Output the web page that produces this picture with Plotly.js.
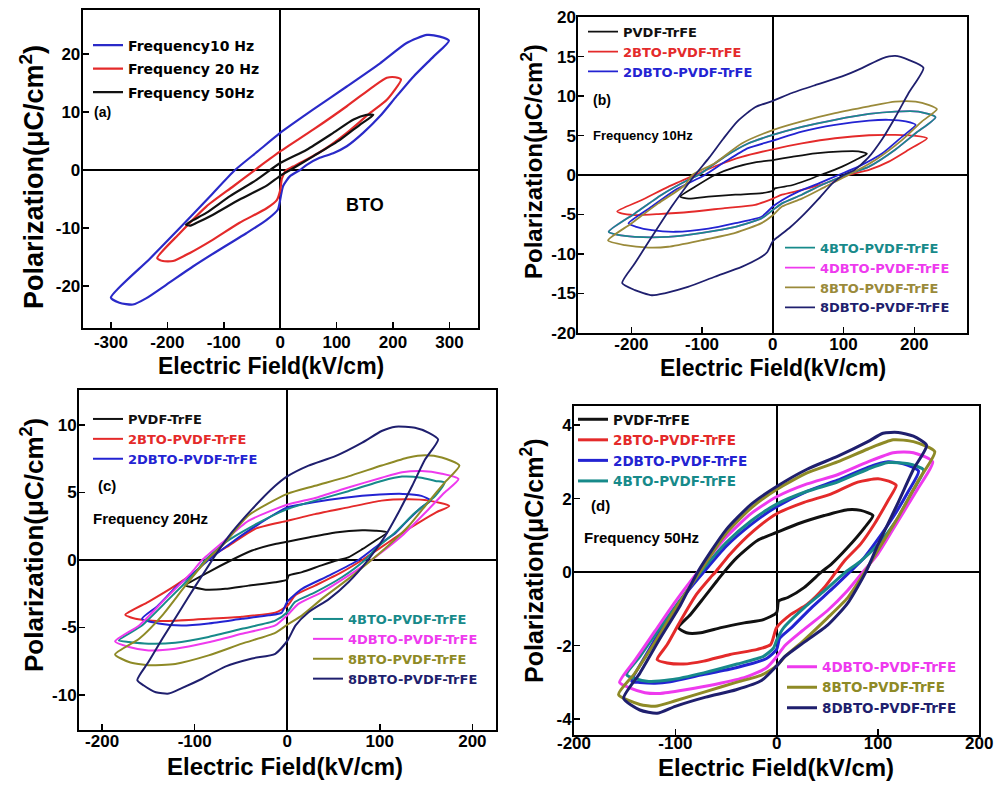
<!DOCTYPE html>
<html><head><meta charset="utf-8">
<script src="https://cdn.plot.ly/plotly-3.0.1.min.js"></script>
<style>html,body{margin:0;padding:0;background:#fff}</style>
</head><body><div id="chart" style="width:995px;height:786px"></div>
<script>
// ---------- Panel (a): BTO, three frequencies ----------
const a_10Hz_x = [-300,-231,-178,-125,-80,-40,0,58,118,177,224,260,283,299,272,236,206,177,147,118,94,70,47,35,17,5,0,-4,-24,-60,-107,-154,-202,-237,-261,-285,-300];
const a_10Hz_y = [-22,-15.3,-10,-4.6,0,3.2,6.4,10.4,14.4,18.4,21.9,23.3,23.0,22.3,19.6,16.1,12.7,9.3,6.4,4.1,2.9,2.1,0.9,0,-1.1,-2.8,-5.1,-6.8,-8.6,-10.9,-13.7,-16.6,-19.8,-22.1,-23.2,-22.9,-22];
const a_20Hz_x = [-218,-178,-131,-83,-45,0,59,118,165,189,204,214,189,159,118,82,47,23,11,3,0,-6,-24,-72,-119,-160,-190,-208,-218];
const a_20Hz_y = [-15.2,-10.9,-6.3,-2.8,0,3.2,7.0,11.0,14.4,15.9,16.0,15.6,12.1,9.8,6.4,3.8,1.8,0.6,0,-1.5,-3.5,-5.2,-6.6,-9.1,-12.0,-14.3,-15.7,-15.7,-15.2];
const a_50Hz_x = [-167,-131,-89,-42,0,47,94,130,153,165,141,106,59,23,0,-24,-72,-119,-148,-160,-167];
const a_50Hz_y = [-9.4,-7.4,-4.5,-1.7,1.2,3.5,6.4,8.7,9.5,9.5,7.8,5.2,2.4,0.3,-1.0,-2.7,-5.1,-7.7,-9.1,-9.6,-9.4];

// ---------- Panel (b): 10 Hz ----------
const b_PVDF_x = [-131,-110,-82,-53,-25,0,27,60,98,121,133,117,98,74,67,50,27,3,0,-15,-53,-91,-119,-131];
const b_PVDF_y = [-2.75,-1.5,0,1.0,1.6,1.9,2.3,2.75,3.0,3.0,2.7,1.9,1.06,0.2,0,-0.6,-1.3,-1.7,-2.0,-2.3,-2.5,-2.75,-3.0,-2.75];
const b_2BTO_x = [-220,-186,-148,-110,-77,-44,0,41,88,136,173,202,218,192,164,136,107,74,41,13,0,-25,-68,-115,-162,-195,-214,-220];
const b_2BTO_y = [-4.6,-3.2,-1.5,0,1.27,2.3,3.26,4.0,4.66,5.04,5.08,4.96,4.66,3.2,1.7,0.64,0,-1.06,-1.9,-2.5,-3.0,-3.8,-4.2,-4.66,-4.96,-5.08,-4.87,-4.6];
const b_2DBTO_x = [-204,-171,-138,-96,-67,-35,0,41,88,136,164,188,202,183,155,121,93,65,36,13,0,-16,-53,-91,-138,-171,-193,-204];
const b_2DBTO_y = [-6.14,-4.0,-1.9,0,1.7,3.4,4.35,5.5,6.36,6.9,7.0,6.8,6.36,4.87,2.75,1.06,0,-1.06,-2.1,-3.2,-4.0,-5.3,-6.1,-6.8,-7.2,-7.0,-6.57,-6.14];
const b_4BTO_x = [-232,-195,-157,-120,-105,-68,-35,0,41,88,136,173,206,230,202,173,136,103,69,41,13,0,-16,-53,-100,-148,-195,-219,-232];
const b_4BTO_y = [-7.2,-4.87,-2.5,-0.64,0,2.33,4.0,5.08,6.1,7.0,7.75,8.05,8.05,7.33,5.3,3.2,1.06,0,-1.27,-2.5,-3.6,-4.45,-5.5,-6.57,-7.33,-7.84,-7.84,-7.6,-7.2];
const b_4DBTO_x = b_4BTO_x;   // hidden under the 4BTO loop in the picture
const b_4DBTO_y = b_4BTO_y;
const b_8BTO_x = [-233,-200,-162,-124,-114,-82,-44,0,41,88,136,173,202,220,232,211,183,145,107,74,41,13,0,-16,-53,-100,-148,-176,-209,-233];
const b_8BTO_y = [-8.3,-6.14,-3.6,-1.27,0,1.5,4.0,5.7,6.8,7.84,8.7,9.3,9.3,8.9,8.35,6.8,4.45,1.9,0,-1.5,-3.0,-4.0,-5.1,-6.1,-7.33,-8.26,-9.1,-9.2,-8.9,-8.3];
const b_8DBTO_x = [-213,-195,-171,-143,-110,-90,-70,-50,-25,0,27,60,98,126,155,173,192,213,192,173,155,135,115,100,85,65,45,25,8,0,-8,-20,-44,-82,-120,-153,-171,-195,-213];
const b_8DBTO_y = [-13.7,-11.2,-7.84,-4.0,0,2.2,4.6,6.8,8.6,9.4,10.4,11.4,12.5,13.56,14.8,15.1,14.6,13.6,10.4,7.3,4.6,2.2,0.6,0,-1.0,-3.0,-4.9,-6.6,-7.8,-8.4,-9.8,-10.6,-11.65,-12.9,-14.2,-15.0,-15.25,-14.6,-13.7];

// ---------- Panel (c): 20 Hz ----------
const c_PVDF_x = [-110,-85,-60,-38,-13,0,23,52,81,95,108,95,81,66,55,37,16,1.4,0,-13,-42,-67,-88,-103,-110];
const c_PVDF_y = [-1.9,-0.9,0,0.7,1.18,1.35,1.67,2.04,2.2,2.17,2.04,1.43,0.8,0.2,0,-0.4,-0.9,-1.16,-1.45,-1.65,-1.9,-2.14,-2.2,-2.0,-1.9];
const c_2BTO_x = [-175,-150,-121,-96,-88,-63,-35,0,30,66,102,131,153,175,160,131,109,88,81,59,30,9,0,-13,-49,-85,-121,-146,-164,-175];
const c_2BTO_y = [-4.06,-3.1,-1.9,-0.67,0,1.06,2.3,2.9,3.4,3.9,4.4,4.5,4.4,4.0,3.5,2.3,1.3,0.32,0,-0.9,-1.9,-2.6,-3.4,-3.9,-4.2,-4.36,-4.5,-4.5,-4.36,-4.06];
const c_2DBTO_x = [-157,-140,-120,-100,-85,-60,-30,0,30,60,100,125,145,155,145,131,117,102,77,45,16,0,-6,-20,-49,-85,-114,-139,-157];
const c_2DBTO_y = [-4.36,-3.4,-2.0,-0.9,0,1.3,2.7,3.9,4.3,4.6,4.85,4.9,4.75,4.4,3.9,3.0,2.0,1.3,0,-1.16,-2.14,-3.1,-3.9,-4.1,-4.36,-4.7,-4.85,-4.7,-4.36];
const c_4BTO_x = [-182,-157,-128,-99,-88.5,-67,-38,0,30,66,102,124,145,160,170,160,138,116.5,95,84,59,30,8.6,0,-13,-49,-85,-121,-150,-171,-182];
const c_4BTO_y = [-5.96,-4.85,-2.9,-0.9,0,1.3,2.5,3.77,4.4,5.1,5.86,6.18,6.1,5.86,5.74,4.75,3.5,2.04,0.8,0,-1.28,-2.4,-3.1,-3.87,-4.5,-5.1,-5.7,-6.13,-6.2,-6.08,-5.96];
const c_4DBTO_x = [-186,-160,-132,-103,-92,-70,-42,0,30,66,102,124,145,167,185,170,149,124,102,91,66,37,12,0,-13,-49,-85,-121,-150,-171,-186];
const c_4DBTO_y = [-6.03,-4.85,-2.9,-0.9,0,1.3,2.9,4.1,4.6,5.37,6.1,6.5,6.6,6.4,6.0,5.0,3.5,1.8,0.57,0,-1.16,-2.4,-3.25,-4.1,-4.85,-5.47,-6.1,-6.58,-6.7,-6.45,-6.03];
const c_8BTO_x = [-186,-160,-135,-110,-87,-67,-42,0,30,66,102,131,149,167,186,170,152,131,109,91,66,37,16,0,-13,-49,-85,-121,-150,-171,-186];
const c_8BTO_y = [-7.0,-5.84,-4.1,-1.9,0,1.3,3.3,4.9,5.5,6.2,7.0,7.6,7.76,7.6,7.0,5.74,4.26,2.5,1.06,0,-1.4,-2.9,-4.1,-4.8,-5.4,-6.2,-7.07,-7.7,-7.8,-7.56,-7.0];
const c_8DBTO_x = [-162,-150,-135,-117,-99,-85,-78,-60,-38,-13,0,23,52,81,102,117,138,153,163,149,135,120,106,88,66,45,23,9,0,-13,-38,-67,-92,-114,-128,-142,-155,-162];
const c_8DBTO_y = [-8.9,-7.56,-5.84,-3.87,-1.9,-0.42,0.32,2.04,3.77,5.5,6.2,7.0,7.7,8.7,9.56,9.88,9.8,9.43,8.94,7.46,5.5,3.5,1.8,0.07,-1.65,-2.9,-3.87,-4.85,-6.0,-6.95,-7.3,-7.9,-8.8,-9.5,-9.9,-9.8,-9.3,-8.9];

// ---------- Panel (d): 50 Hz ----------
const d_PVDF_x = [-97,-85,-72,-59,-52,-39,-19,0,20.5,47,70,83,95,87,70,54,44,27,11,2,0,-13,-32,-55,-75,-89,-97];
const d_PVDF_y = [-1.51,-1.15,-0.7,-0.24,0,0.4,0.86,1.08,1.31,1.54,1.7,1.68,1.54,1.22,0.67,0.22,0,-0.42,-0.69,-0.78,-1.1,-1.29,-1.38,-1.51,-1.65,-1.65,-1.51];
const d_2BTO_x = [-118,-108,-95,-79,-65.5,-60.5,-46,-22.5,0,27,54,80,100,113,118,110,96.5,83,67,58.5,47,30,14,0,-6,-19,-46,-72,-92,-108,-118];
const d_2BTO_y = [-2.38,-1.97,-1.33,-0.6,-0.15,0,0.49,1.13,1.59,1.9,2.13,2.45,2.54,2.45,2.36,1.95,1.31,0.77,0.31,0,-0.42,-0.88,-1.15,-1.51,-1.97,-2.1,-2.24,-2.42,-2.5,-2.47,-2.38];
const d_2DBTO_x = [-143,-130,-110,-90,-72,-50,-25,0,30,60,90,110,125,140,130,115,100,85,72,55,35,15,3,0,-10,-40,-75,-105,-120,-135,-143];
const d_2DBTO_y = [-2.97,-2.3,-1.4,-0.6,0,0.7,1.3,1.78,2.2,2.5,2.85,3.0,2.95,2.75,2.2,1.5,0.9,0.35,0,-0.45,-0.95,-1.5,-1.8,-2.1,-2.35,-2.6,-2.8,-2.98,-3.02,-3.0,-2.97];
const d_4BTO_x = [-148,-135,-115,-95,-75,-50,-25,0,30,60,90,110,130,145,132,118,100,83,68,47,27,7,0,-3,-13,-39,-72,-105,-128,-148];
const d_4BTO_y = [-2.79,-2.3,-1.5,-0.75,0,0.8,1.4,1.85,2.2,2.45,2.8,2.98,2.95,2.78,2.1,1.4,0.75,0.3,0,-0.51,-0.97,-1.51,-1.85,-2.06,-2.29,-2.5,-2.74,-2.93,-2.97,-2.79];
const d_4DBTO_x = [-155,-140,-120,-100,-78,-50,-25,0,30,60,90,115,135,154,140,120,100,85,70,50,25,8,0,-10,-30,-60,-90,-115,-130,-145,-155];
const d_4DBTO_y = [-3.0,-2.4,-1.6,-0.8,0,0.95,1.6,2.05,2.4,2.65,3.0,3.25,3.25,3.0,2.3,1.4,0.5,0,-0.5,-1.05,-1.6,-2.0,-2.3,-2.6,-2.85,-3.05,-3.2,-3.3,-3.28,-3.15,-3.0];
const d_8BTO_x = [-156,-140,-120,-100,-82,-76,-50,-25,0,30,60,90,115,135,156,140,120,100,87,70,50,25,8,0,-15,-40,-70,-100,-120,-135,-156];
const d_8BTO_y = [-3.33,-2.75,-1.9,-1.0,-0.25,0,1.05,1.75,2.25,2.7,3.0,3.35,3.6,3.55,3.28,2.5,1.5,0.6,0,-0.7,-1.25,-1.9,-2.3,-2.55,-2.8,-3.0,-3.25,-3.5,-3.65,-3.6,-3.33];
const d_8DBTO_x = [-151,-135,-115,-95,-78,-50,-25,0,30,60,90,105,120,135,148,135,120,100,88,70,50,25,8,0,-15,-40,-70,-100,-118,-135,-151];
const d_8DBTO_y = [-3.43,-2.75,-1.8,-0.9,0,1.15,1.85,2.33,2.8,3.15,3.55,3.78,3.8,3.7,3.45,2.8,1.9,0.75,0,-0.85,-1.45,-1.95,-2.3,-2.55,-2.95,-3.2,-3.4,-3.65,-3.84,-3.75,-3.43];

// ---------- labels ----------
const a_names = ['Frequency10 Hz','Frequency 20 Hz','Frequency 50Hz'];
const s_names = ['PVDF-TrFE','2BTO-PVDF-TrFE','2DBTO-PVDF-TrFE','4BTO-PVDF-TrFE','4DBTO-PVDF-TrFE','8BTO-PVDF-TrFE','8DBTO-PVDF-TrFE'];
const a_ticks = [-300,-200,-100,0,100,200,300];
const bcd_xticks = [-200,-100,0,100,200];
const a_yticks = [-20,-10,0,10,20];
const b_yticks = [-20,-15,-10,-5,0,5,10,15,20];
const c_yticks = [-10,-5,0,5,10];
const d_yticks = [-4,-2,0,2,4];

// ---------- styling ----------
const COL = {blk:'#111111', red:'#e42a2a', blu:'#2323d2', teal:'#178a8a', mag:'#ee3aee', olv:'#8e8a26', navy:'#1f1f6e'};
const aBlue = '#2a2ac8';
const FONT = 'Liberation Sans, Arial, sans-serif';
const LFONT = 'DejaVu Sans, Liberation Sans, sans-serif';
const W = 995, H = 786;
const px = v => v / W, py = v => 1 - v / H;

let gid = 0;
function tr(x, y, name, color, w, ax, leg, rank) {
  gid += 1;
  return {type:'scatter', mode:'lines', x:x, y:y, name:name, legendgroup:'g' + gid,
    line:{color:color, width:w, shape:'spline', smoothing:0.6},
    xaxis: ax === 1 ? 'x' : 'x' + ax, yaxis: ax === 1 ? 'y' : 'y' + ax,
    legend:leg, legendrank:rank, showlegend:true, hoverinfo:'x+y'};
}
const cn = (t, c) => '<span style="color:' + c + '">' + t + '</span>';
const sc = [COL.blk, COL.red, COL.blu, COL.teal, COL.mag, COL.olv, COL.navy];
const bOlive = '#9a8a3a';

const traces = [
  tr(a_10Hz_x, a_10Hz_y, a_names[0], aBlue, 2.2, 1, 'legend', 1),
  tr(a_20Hz_x, a_20Hz_y, a_names[1], COL.red, 2.2, 1, 'legend', 2),
  tr(a_50Hz_x, a_50Hz_y, a_names[2], COL.blk, 2.2, 1, 'legend', 3),

  tr(b_PVDF_x, b_PVDF_y, cn(s_names[0], sc[0]), sc[0], 1.8, 2, 'legend2', 1),
  tr(b_2BTO_x, b_2BTO_y, cn(s_names[1], sc[1]), sc[1], 1.8, 2, 'legend2', 2),
  tr(b_2DBTO_x, b_2DBTO_y, cn(s_names[2], sc[2]), sc[2], 1.8, 2, 'legend2', 3),
  tr(b_4DBTO_x, b_4DBTO_y, cn(s_names[4], sc[4]), sc[4], 1.8, 2, 'legend3', 2),
  tr(b_4BTO_x, b_4BTO_y, cn(s_names[3], sc[3]), sc[3], 1.8, 2, 'legend3', 1),
  tr(b_8BTO_x, b_8BTO_y, cn(s_names[5], bOlive), bOlive, 1.8, 2, 'legend3', 3),
  tr(b_8DBTO_x, b_8DBTO_y, cn(s_names[6], sc[6]), sc[6], 1.8, 2, 'legend3', 4),

  tr(c_PVDF_x, c_PVDF_y, cn(s_names[0], sc[0]), sc[0], 2, 3, 'legend4', 1),
  tr(c_2BTO_x, c_2BTO_y, cn(s_names[1], sc[1]), sc[1], 2, 3, 'legend4', 2),
  tr(c_2DBTO_x, c_2DBTO_y, cn(s_names[2], sc[2]), sc[2], 2, 3, 'legend4', 3),
  tr(c_4BTO_x, c_4BTO_y, cn(s_names[3], sc[3]), sc[3], 2, 3, 'legend5', 1),
  tr(c_4DBTO_x, c_4DBTO_y, cn(s_names[4], sc[4]), sc[4], 2, 3, 'legend5', 2),
  tr(c_8BTO_x, c_8BTO_y, cn(s_names[5], sc[5]), sc[5], 2, 3, 'legend5', 3),
  tr(c_8DBTO_x, c_8DBTO_y, cn(s_names[6], sc[6]), sc[6], 2, 3, 'legend5', 4),

  tr(d_PVDF_x, d_PVDF_y, cn(s_names[0], sc[0]), sc[0], 3, 4, 'legend6', 1),
  tr(d_2BTO_x, d_2BTO_y, cn(s_names[1], sc[1]), sc[1], 3, 4, 'legend6', 2),
  tr(d_2DBTO_x, d_2DBTO_y, cn(s_names[2], sc[2]), sc[2], 3, 4, 'legend6', 3),
  tr(d_4BTO_x, d_4BTO_y, cn(s_names[3], sc[3]), sc[3], 3, 4, 'legend6', 4),
  tr(d_4DBTO_x, d_4DBTO_y, cn(s_names[4], sc[4]), sc[4], 3, 4, 'legend7', 1),
  tr(d_8BTO_x, d_8BTO_y, cn(s_names[5], sc[5]), sc[5], 3, 4, 'legend7', 2),
  tr(d_8DBTO_x, d_8DBTO_y, cn(s_names[6], sc[6]), sc[6], 3, 4, 'legend7', 3)
];

function xax(dom, anchor, range, ticks, size, standoff) {
  return {domain:dom, anchor:anchor, range:range, tickvals:ticks, ticktext:ticks.map(String),
    showline:true, mirror:true, linecolor:'#000', linewidth:2, ticks:'inside', ticklen:6, tickwidth:1.5, tickcolor:'#000',
    showgrid:false, zeroline:true, zerolinecolor:'#000', zerolinewidth:1.8, fixedrange:true,
    ticklabelstandoff: standoff === undefined ? -3 : standoff,
    tickfont:{family:FONT, size:size, color:'#000', weight:'bold'}};
}
function leg(x, y, size, gap) {
  return {x:x, y:y, xref:'paper', yref:'paper', xanchor:'left', yanchor:'top', bgcolor:'rgba(0,0,0,0)',
    borderwidth:0, tracegroupgap:gap || 0, traceorder:'grouped', itemclick:false, itemdoubleclick:false,
    font:{family:LFONT, size:size, color:'#000', weight:'bold'}};
}
function ann(x, y, text, size, opts) {
  return Object.assign({xref:'paper', yref:'paper', x:px(x), y:py(y), text:text, showarrow:false,
    font:{family:FONT, size:size, color:'#000', weight:'bold'}, xanchor:'center', yanchor:'middle'}, opts || {});
}
const XT = 'Electric Field(kV/cm)';
const YT = 'Polarization(μC/cm<sup>2</sup>)';

const layout = {
  width:W, height:H, margin:{l:0, r:0, t:0, b:0}, paper_bgcolor:'#fff', plot_bgcolor:'#fff', showlegend:true,
  xaxis:  xax([px(82.7), px(477.7)], 'y',  [-350, 350], a_ticks, 17),
  yaxis:  xax([py(328.3), py(10)],   'x',  [-27.3, 27.6], a_yticks, 17),
  xaxis2: xax([px(578.3), px(967.3)], 'y2', [-275, 275], bcd_xticks, 17, -5),
  yaxis2: xax([py(332.7), py(17.3)],  'x2', [-20, 20], b_yticks, 17),
  xaxis3: xax([px(79), px(495.5)],   'y3', [-225, 225], bcd_xticks, 17, -5),
  yaxis3: xax([py(730), py(390)],    'x3', [-12.6, 12.6], c_yticks, 17),
  xaxis4: xax([px(574), px(979.3)],  'y4', [-200, 200], bcd_xticks, 17, -8),
  yaxis4: xax([py(735), py(406)],    'x4', [-4.43, 4.52], d_yticks, 17),
  legend:  leg(px(88),  py(29.5), 14, 2.3),
  legend2: leg(px(583), py(16.7), 13),
  legend3: leg(px(780), py(232.7), 13),
  legend4: leg(px(88),  py(404), 13),
  legend5: leg(px(308), py(604), 13),
  legend6: leg(px(573), py(404), 13.5),
  legend7: leg(px(782), py(651.4), 13.5),
  annotations: [
    ann(271, 366, XT, 23), ann(773, 368, XT, 23), ann(285, 766, XT, 24), ann(776, 767, XT, 24),
    ann(32, 177, YT, 27, {textangle:-90}), ann(532, 162, YT, 24, {textangle:-90}),
    ann(32, 545, YT, 26, {textangle:-90}), ann(532, 561, YT, 25, {textangle:-90}),
    ann(102, 112, '(a)', 14), ann(365, 205, 'BTO', 18),
    ann(602, 100, '(b)', 14), ann(591, 135, 'Frequency 10Hz', 13, {xanchor:'left'}),
    ann(107, 485, '(c)', 15), ann(91, 518, 'Frequency 20Hz', 15, {xanchor:'left'}),
    ann(600, 505, '(d)', 15), ann(582, 537, 'Frequency 50Hz', 15, {xanchor:'left'})
  ]
};

Plotly.newPlot('chart', traces, layout, {staticPlot:true, displayModeBar:false});
</script></body></html>
